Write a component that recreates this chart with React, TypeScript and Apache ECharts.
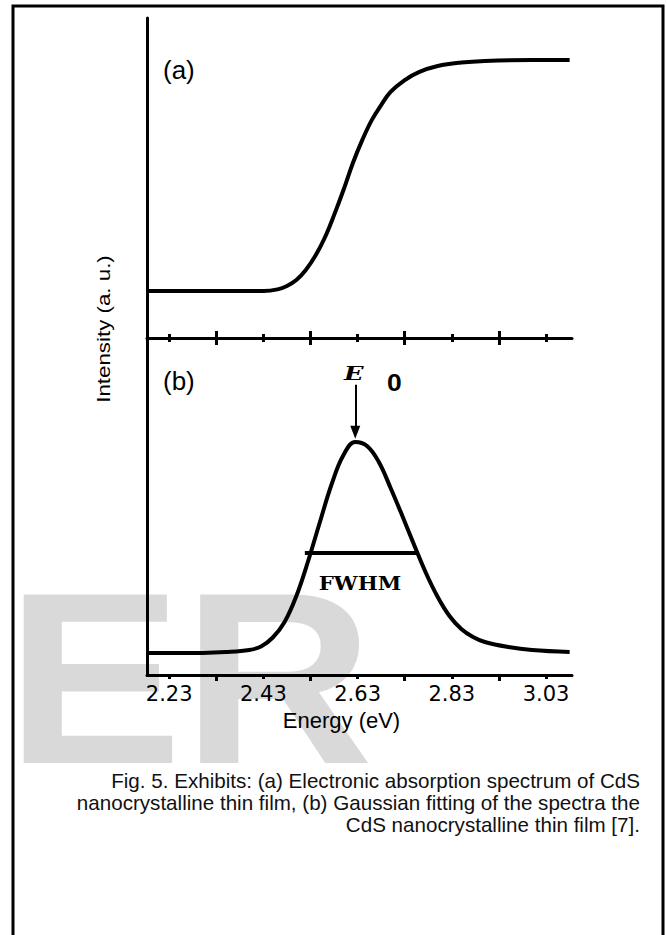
import React, { useEffect, useRef } from "react";
import * as echarts from "echarts";

// Panel (a): electronic absorption spectrum (energy eV -> intensity a.u.)
const energyA = [2.183, 2.3, 2.4, 2.43, 2.46, 2.48, 2.5, 2.52, 2.54, 2.56, 2.58, 2.6, 2.62, 2.64, 2.66, 2.68, 2.7, 2.73, 2.76, 2.8, 2.85, 2.9, 3.0, 3.08];
const absorbA = [0.147, 0.147, 0.147, 0.147, 0.152, 0.1625, 0.181, 0.2125, 0.256, 0.3125, 0.384, 0.4625, 0.547, 0.619, 0.681, 0.728, 0.769, 0.806, 0.831, 0.85, 0.861, 0.866, 0.869, 0.869];

// Panel (b): Gaussian fitting
const energyB = [2.183, 2.25, 2.3, 2.35, 2.4, 2.425, 2.45, 2.475, 2.5, 2.525, 2.55, 2.575, 2.6, 2.625, 2.65, 2.675, 2.7, 2.725, 2.75, 2.775, 2.8, 2.825, 2.85, 2.875, 2.9, 2.95, 3.0, 3.08];
const gaussB = [0.0653, 0.0653, 0.0656, 0.068, 0.0742, 0.0846, 0.1113, 0.1573, 0.2344, 0.3383, 0.454, 0.5668, 0.6528, 0.6914, 0.6795, 0.632, 0.5549, 0.4718, 0.3858, 0.3027, 0.2315, 0.1751, 0.1365, 0.1128, 0.0979, 0.0831, 0.0742, 0.0682];

const labelTicks = [2.23, 2.43, 2.63, 2.83, 3.03];
const midTicks = [2.33, 2.53, 2.73, 2.93];
const xMin = 2.183;
const xMax = 3.085;

const fwhmEnergy = [2.518, 2.755];
const fwhmLevel = 0.362;
const peakEnergy = 2.625;
const arrowTop = 0.861;
const arrowEnd = 0.72;

const captionLines = [
  "Fig. 5. Exhibits: (a) Electronic absorption spectrum of CdS",
  "nanocrystalline thin film, (b) Gaussian fitting of the spectra the",
  "CdS nanocrystalline thin film [7].",
];

const BLACK = "#000";

function tickAxis(gridIndex: number, values: number[], length: number, inside: boolean, showLine: boolean, extra: any = {}) {
  return {
    type: "value",
    gridIndex,
    position: "bottom",
    min: xMin,
    max: xMax,
    axisLine: { show: showLine, onZero: false, lineStyle: { color: BLACK, width: 3 } },
    axisTick: { show: true, customValues: values, inside, length, lineStyle: { color: BLACK, width: 3 } },
    axisLabel: { show: false },
    splitLine: { show: false },
    ...extra,
  };
}

export default function App() {
  const ref = useRef<HTMLDivElement>(null);
  useEffect(() => {
    const chart = echarts.init(ref.current!, null, { renderer: "svg" });
    const option: any = {
      animation: false,
      backgroundColor: "#fff",
      grid: [
        { left: 147, top: 18, width: 425, height: 320, outerBoundsMode: "none" },
        { left: 147, top: 338, width: 425, height: 337, outerBoundsMode: "none" },
      ],
      xAxis: [
        tickAxis(0, midTicks, 7, false, true),
        tickAxis(0, midTicks, 7, true, false),
        tickAxis(0, labelTicks, 4, false, false),
        tickAxis(0, labelTicks, 4, true, false),
        tickAxis(1, midTicks, 6, false, true, {
          axisLabel: {
            show: true,
            customValues: labelTicks,
            margin: 8,
            color: BLACK,
            fontSize: 21,
            fontFamily: "DejaVu Sans",
            formatter: (v: number) => v.toFixed(2),
          },
          name: "Energy (eV)",
          nameLocation: "middle",
          nameGap: 34,
          nameTextStyle: { color: BLACK, fontSize: 22, fontFamily: "Liberation Sans", padding: [0, 36, 0, 0] },
        }),
        tickAxis(1, labelTicks, 4, false, false),
      ],
      yAxis: [0, 1].map((g) => ({
        type: "value",
        gridIndex: g,
        min: 0,
        max: 1,
        axisLine: { show: true, onZero: false, lineStyle: { color: BLACK, width: 3 } },
        axisTick: { show: false },
        axisLabel: { show: false },
        splitLine: { show: false },
      })),
      series: [
        {
          type: "line",
          xAxisIndex: 0,
          yAxisIndex: 0,
          data: energyA.map((e, i) => [e, absorbA[i]]),
          smooth: 0.4,
          showSymbol: false,
          lineStyle: { color: BLACK, width: 4 },
          silent: true,
        },
        {
          type: "line",
          xAxisIndex: 4,
          yAxisIndex: 1,
          data: energyB.map((e, i) => [e, gaussB[i]]),
          smooth: 0.4,
          showSymbol: false,
          lineStyle: { color: BLACK, width: 4 },
          silent: true,
          markLine: {
            silent: true,
            symbol: ["none", "triangle"],
            symbolSize: [10, 13],
            lineStyle: { color: BLACK, width: 2, type: "solid" },
            label: { show: false },
            emphasis: { disabled: true },
            data: [[{ coord: [peakEnergy, arrowTop] }, { coord: [peakEnergy, arrowEnd] }]],
          },
        },
        {
          type: "line",
          xAxisIndex: 4,
          yAxisIndex: 1,
          data: fwhmEnergy.map((e) => [e, fwhmLevel]),
          showSymbol: false,
          lineStyle: { color: BLACK, width: 4 },
          silent: true,
        },
      ],
      graphic: [
        {
          type: "text",
          z: -10,
          x: 6,
          y: 678,
          scaleX: 1.08,
          silent: true,
          style: { text: "ER", font: 'bold 245px "Liberation Sans"', fill: "#d9d9d9", verticalAlign: "middle", align: "left" },
        },
        {
          type: "polyline",
          z: 10,
          silent: true,
          shape: { points: [[13, 935], [13, 6], [663, 6], [663, 935]] },
          style: { stroke: BLACK, lineWidth: 3, fill: "none" },
        },
        {
          type: "text",
          x: 163,
          y: 70,
          style: { text: "(a)", font: '26px "Liberation Sans"', fill: BLACK, verticalAlign: "middle", align: "left" },
        },
        {
          type: "text",
          x: 163,
          y: 381,
          style: { text: "(b)", font: '26px "Liberation Sans"', fill: BLACK, verticalAlign: "middle", align: "left" },
        },
        {
          type: "text",
          x: 344,
          y: 373,
          scaleX: 1.35,
          style: { text: "E", font: 'italic bold 19px "DejaVu Serif"', fill: BLACK, verticalAlign: "middle", align: "left" },
        },
        {
          type: "text",
          x: 387,
          y: 383,
          scaleX: 1.15,
          style: { text: "0", font: 'bold 23px "Liberation Sans"', fill: BLACK, verticalAlign: "middle", align: "left" },
        },
        {
          type: "text",
          x: 360,
          y: 584,
          scaleX: 1.18,
          style: { text: "FWHM", font: 'bold 18px "DejaVu Serif"', fill: BLACK, verticalAlign: "middle", align: "center" },
        },
        {
          type: "text",
          x: 104,
          y: 329,
          rotation: Math.PI / 2,
          scaleX: 1.24,
          style: { text: "Intensity (a. u.)", font: '18px "Liberation Sans"', fill: BLACK, verticalAlign: "middle", align: "center" },
        },
        ...captionLines.map((t, i) => ({
          type: "text",
          x: 640,
          y: 780 + i * 22,
          style: { text: t, font: '20.6px "Liberation Sans"', fill: "#111", verticalAlign: "middle", align: "right" },
        })),
      ],
    };
    chart.setOption(option);
    return () => chart.dispose();
  }, []);
  return (
    <div
      ref={ref}
      style={{ position: "fixed", left: 0, top: 0, width: 667, height: 935, background: "#fff" }}
    />
  );
}
